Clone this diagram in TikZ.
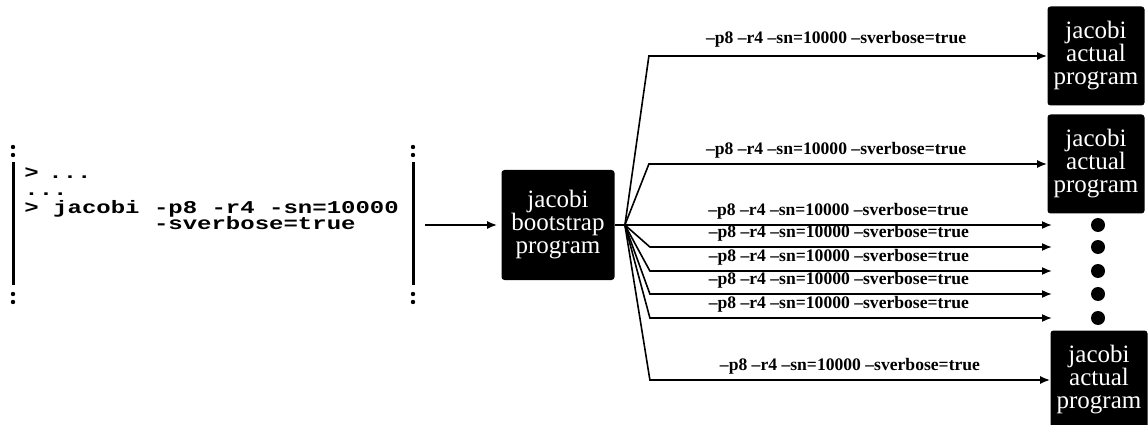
\documentclass[tikz,border=0pt]{standalone}
\usepackage{fontspec}
\setmainfont{Liberation Serif}
\setmonofont{Liberation Mono}
\usetikzlibrary{arrows.meta,positioning}

\begin{document}
\begin{tikzpicture}[
  x=0.5pt, y=0.5pt,
  >={Latex[length=5pt,width=4pt]},
  flecha/.style={->, line width=0.8pt},
  programa/.style={
    fill=black, text=white, rounded corners=1.5pt,
    align=center, inner sep=0pt,
    minimum width=48.5pt, minimum height=49.5pt,
    font=\fontsize{12.5}{11.5}\selectfont
  },
  orden/.style={
    anchor=base west, inner sep=0pt,
    font=\ttfamily\bfseries\fontsize{12}{14}\selectfont
  },
  opciones/.style={
    above, pos=0.47, inner sep=2.5pt,
    font=\bfseries\fontsize{8.8}{11}\selectfont
  },
  punto/.style={circle, fill=black, inner sep=0pt, minimum size=7pt}
]

  \useasboundingbox (0,0) rectangle (1148,424);

  % Terminal
  \draw[line width=1.5pt]
    (13,139) -- (13,262);
  \fill
    (13,277) circle (1.1pt) (13,269) circle (1.1pt)
    (13,130) circle (1.1pt) (13,122) circle (1.1pt);

  \draw[line width=1.5pt]
    (413,139) -- (413,262);
  \fill
    (413,277) circle (1.1pt) (413,269) circle (1.1pt)
    (413,130) circle (1.1pt) (413,122) circle (1.1pt);

  \node[orden] (l1) at (24,245) {\scalebox{1}[0.75]{>\hspace{0.4em}...}};
  \node[orden] (l2) at (24,228) {\scalebox{1}[0.75]{...}};
  \node[orden] (l3) at (24,211) {\scalebox{1}[0.75]{> jacobi -p8 -r4 -sn=10000}};
  \node[orden] (l4) at (153.6,194) {\scalebox{1}[0.75]{-sverbose=true}};

  % Programa de arranque
  \node[programa, minimum width=56.5pt, minimum height=55pt]
    (boot) at (558,199) {jacobi\\bootstrap\\program};

  \coordinate (src) at (425,199);
  \draw[flecha, shorten >=2pt]
    (src) -- (boot.west);

  % Programas reales
  \node[programa] (act1) at (1096,368) {jacobi\\actual\\program};
  \node[programa] (act2) at (1096,260) {jacobi\\actual\\program};
  \node[programa] (act3) at (1099,44) {jacobi\\actual\\program};

  % Puntos suspensivos
  \node[punto] (d1) at (1098,199) {};
  \node[punto] (d2) at (1098,177) {};
  \node[punto] (d3) at (1098,153) {};
  \node[punto] (d4) at (1098,130) {};
  \node[punto] (d5) at (1098,106) {};

  \coordinate (t1) at ([xshift=-23pt]d1.center);
  \coordinate (t2) at ([xshift=-23pt]d2.center);
  \coordinate (t3) at ([xshift=-23pt]d3.center);
  \coordinate (t4) at ([xshift=-23pt]d4.center);
  \coordinate (t5) at ([xshift=-23pt]d5.center);

  % Bifurcacion
  \coordinate[right=5pt of boot.east] (fork);
  \draw[line width=0.8pt]
    (boot.east) -- (fork);

  \draw[flecha]
    (fork) -- ([xshift=12pt]fork |- act1.west) -- (act1.west)
    node[opciones, yshift=1.5pt] {--p8 --r4 --sn=10000 --sverbose=true};

  \draw[flecha]
    (fork) -- ([xshift=12pt]fork |- act2.west) -- (act2.west)
    node[opciones] {--p8 --r4 --sn=10000 --sverbose=true};

  \draw[flecha]
    (fork) -- (t1)
    node[opciones, pos=0.5] {--p8 --r4 --sn=10000 --sverbose=true};

  \draw[flecha]
    (fork) -- ([xshift=12.5pt]fork |- t2) -- (t2)
    node[opciones] {--p8 --r4 --sn=10000 --sverbose=true};

  \draw[flecha]
    (fork) -- ([xshift=12.5pt]fork |- t3) -- (t3)
    node[opciones] {--p8 --r4 --sn=10000 --sverbose=true};

  \draw[flecha]
    (fork) -- ([xshift=12.5pt]fork |- t4) -- (t4)
    node[opciones] {--p8 --r4 --sn=10000 --sverbose=true};

  \draw[flecha]
    (fork) -- ([xshift=12.5pt]fork |- t5) -- (t5)
    node[opciones] {--p8 --r4 --sn=10000 --sverbose=true};

  \draw[flecha]
    (fork) -- ([xshift=12.5pt]fork |- act3.west) -- (act3.west)
    node[opciones, pos=0.5] {--p8 --r4 --sn=10000 --sverbose=true};

\end{tikzpicture}
\end{document}
